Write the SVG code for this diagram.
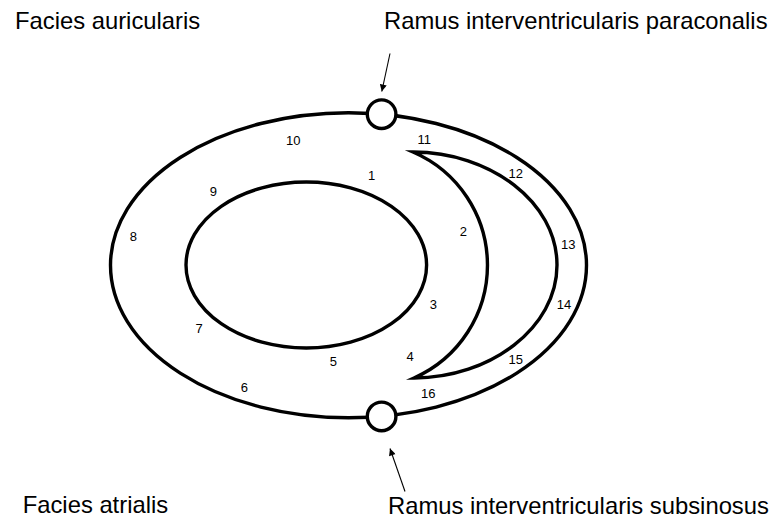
<svg xmlns="http://www.w3.org/2000/svg" width="773" height="522" viewBox="0 0 773 522">
<style>
.shape{fill:none;stroke:#000;stroke-width:3.4;stroke-miterlimit:10}
.node{fill:#fff;stroke:#000;stroke-width:3.4}
.lbl{font-family:"Liberation Sans",Arial,Helvetica,sans-serif;font-size:23.8px;fill:#000}
.num{font-family:"Liberation Sans",Arial,Helvetica,sans-serif;font-size:13px;fill:#000;text-anchor:middle}
.conn{stroke:#000;stroke-width:1.1;fill:none}
</style>
<defs>
<marker id="ah" viewBox="0 0 10 10" refX="10" refY="5" markerWidth="8" markerHeight="7" markerUnits="userSpaceOnUse" orient="auto">
<path d="M0,0 L10,5 L0,10 Z" fill="#000"/>
</marker>
</defs>
<rect width="773" height="522" fill="#fff"/>
<g id="outer-ellipse"><ellipse class="shape" cx="348.5" cy="265.3" rx="238" ry="152.5"/></g>
<g id="inner-ellipse"><ellipse class="shape" cx="306.3" cy="265" rx="120.3" ry="83"/></g>
<g id="crescent"><path class="shape" d="M413,152 C490,152 557,202 557,265 C557,328 490,378 414,378 A123.3 123.3 0 0 0 413 152 Z"/></g>
<g id="node-paraconalis"><circle class="node" cx="381.6" cy="114.2" r="14.3"/></g>
<g id="node-subsinosus"><circle class="node" cx="381.6" cy="416.4" r="14.3"/></g>
<g id="connectors">
<line class="conn" x1="390" y1="53.5" x2="381.8" y2="91.5" marker-end="url(#ah)"/>
<line class="conn" x1="405" y1="491.5" x2="390" y2="448.5" marker-end="url(#ah)"/>
</g>
<g id="labels">
<text class="lbl" x="15" y="28.5">Facies auricularis</text>
<text class="lbl" x="384" y="29.3">Ramus interventricularis paraconalis</text>
<text class="lbl" x="22.7" y="512.7">Facies atrialis</text>
<text class="lbl" x="388" y="514.3">Ramus interventricularis subsinosus</text>
</g>
<g id="numbers">
<text class="num" x="371.7" y="180.3">1</text>
<text class="num" x="463.3" y="235.6">2</text>
<text class="num" x="433.3" y="308.9">3</text>
<text class="num" x="410" y="361.3">4</text>
<text class="num" x="333.3" y="366.3">5</text>
<text class="num" x="244.3" y="391.9">6</text>
<text class="num" x="199" y="332.9">7</text>
<text class="num" x="133.3" y="241.3">8</text>
<text class="num" x="213.3" y="195.6">9</text>
<text class="num" x="293.3" y="144.6">10</text>
<text class="num" x="424.3" y="143.9">11</text>
<text class="num" x="515.8" y="178.4">12</text>
<text class="num" x="568.3" y="248.6">13</text>
<text class="num" x="564" y="308.9">14</text>
<text class="num" x="515.7" y="363.6">15</text>
<text class="num" x="428.3" y="397.9">16</text>
</g>
</svg>
